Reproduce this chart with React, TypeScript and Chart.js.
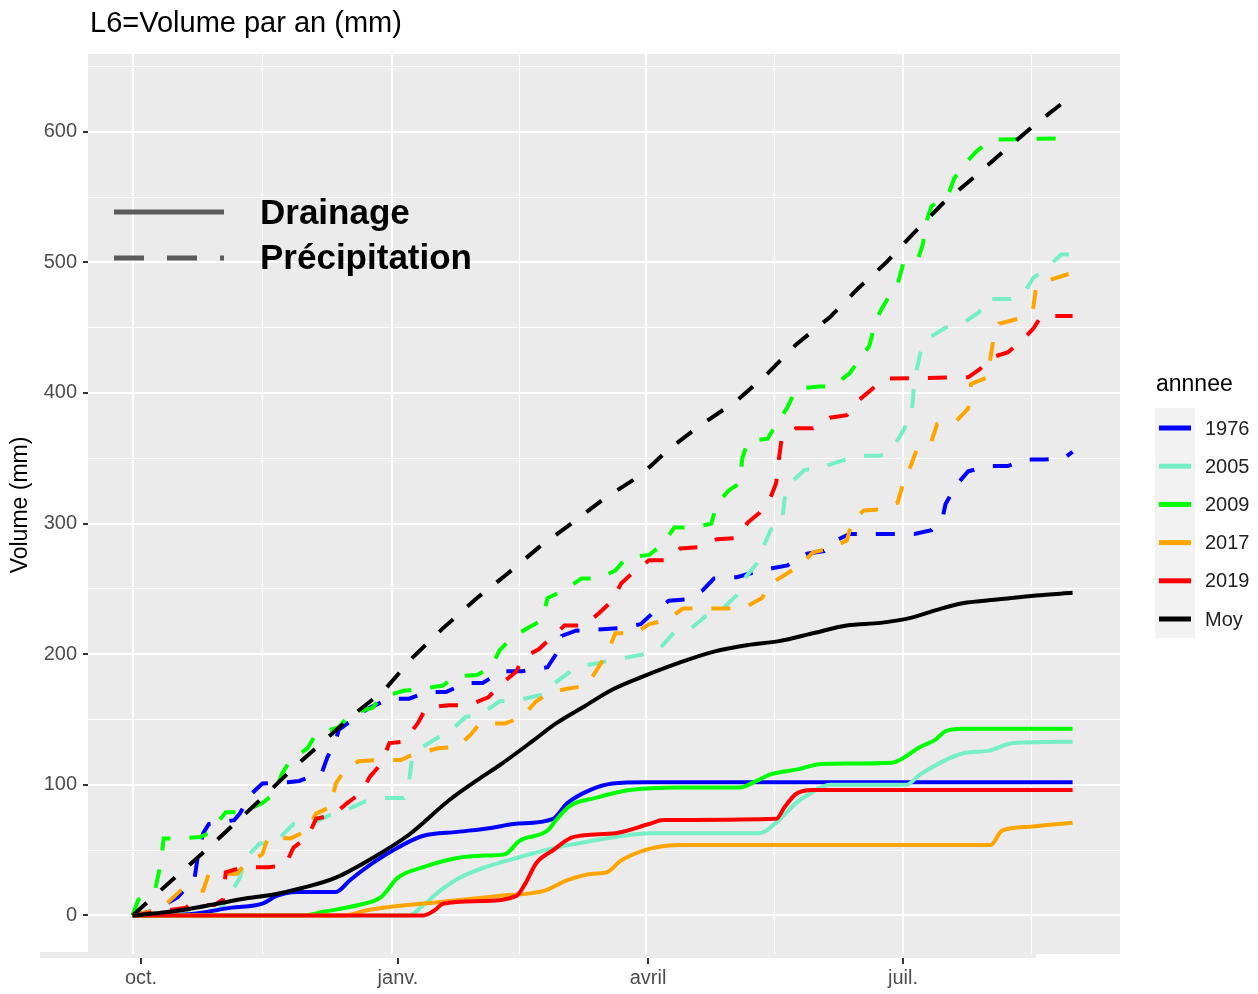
import React, { useEffect, useRef } from "react";
import { Chart, registerables } from "chart.js";

Chart.register(...registerables);

const FONT = '"Liberation Sans", Arial, Helvetica, sans-serif';

// x axis: days since 1 October
const monthLabels = ["oct.", "janv.", "avril", "juil."];
const monthDays = [0, 92, 182, 273];
const monthLabelShift = [8, 6, 2, 0];
const minorDays = [46, 137, 227.5, 318.5];
const yMajorTicks = [0, 100, 200, 300, 400, 500, 600];
const yMinorTicks = [50, 150, 250, 350, 450, 550, 650];

const years = ["1976", "2005", "2009", "2017", "2019", "Moy"];
const colors = ["#0000FF", "#76EEC6", "#00FF00", "#FFA500", "#FF0000", "#000000"];

// ---- Drainage (solid) ----
const drain1976Days = [0, 20, 35, 46, 51, 58, 72, 77, 85, 94, 103, 115, 127, 135, 149, 154, 162, 170, 182, 333];
const drain1976 = [0, 1, 6, 9, 15, 18, 18, 27, 40, 52, 61, 64, 67, 70, 74, 86, 96, 101, 102, 102];

const drain2005Days = [0, 98, 102, 109, 116, 125, 136, 148, 160, 171, 183, 194, 222, 229, 235, 239, 247, 274, 279, 294, 303, 312, 333];
const drain2005 = [0, 0, 6, 19, 29, 37, 44, 51, 56, 60, 63, 63, 63, 73, 86, 92, 100, 100, 108, 124, 126, 132, 133];

const drain2009Days = [0, 60, 68, 80, 88, 94, 103, 115, 127, 132, 137, 147, 150, 155, 164, 176, 194, 215, 221, 226, 236, 244, 269, 279, 284, 288, 294, 333];
const drain2009 = [0, 0, 3, 8, 14, 29, 37, 44, 46, 47, 57, 65, 73, 84, 90, 96, 98, 98, 103, 108, 112, 116, 117, 129, 134, 141, 143, 143];

const drain2017Days = [0, 75, 83, 107, 130, 146, 154, 163, 168, 173, 183, 194, 304, 308, 318, 333];
const drain2017 = [0, 0, 4, 10, 15, 19, 27, 32, 33, 42, 51, 54, 54, 65, 68, 71];

const drain2019Days = [0, 103, 107, 110, 124, 136, 139, 143, 149, 156, 171, 183, 188, 228, 231, 235, 241, 333];
const drain2019 = [0, 0, 4, 9, 11, 15, 24, 40, 50, 60, 63, 70, 73, 74, 83, 93, 96, 96];

const drainMoyDays = [0, 10, 20, 30, 40, 50, 60, 72, 85, 98, 112, 123, 130, 142, 150, 160, 170, 182, 193, 206, 218, 229, 241, 253, 265, 276, 285, 294, 307, 320, 333];
const drainMoy = [0, 2, 5, 9, 13, 16, 21, 29, 44, 62, 88, 105, 115, 134, 147, 160, 173, 184, 193, 202, 207, 210, 216, 222, 224, 228, 234, 239, 242, 245, 247];

// ---- Précipitation (dashed) ----
const prec1976Days = [0, 8, 12, 16, 22, 23, 25, 27, 36, 38, 42, 46, 55, 59, 67, 69, 72, 73, 81, 84, 91, 98, 104, 111, 118, 124, 131, 138, 147, 150, 152, 157, 165, 172, 180, 184, 190, 196, 202, 206, 214, 219, 227, 232, 239, 245, 249, 254, 269, 277, 283, 287, 288, 292, 296, 303, 310, 316, 323, 330, 333];
const prec1976 = [0, 4, 9, 14, 29, 44, 63, 70, 73, 78, 93, 101, 102, 103, 109, 121, 134, 142, 155, 159, 166, 166, 171, 171, 178, 178, 187, 187, 190, 200, 214, 218, 219, 220, 223, 231, 241, 242, 249, 258, 259, 262, 266, 268, 277, 279, 287, 292, 292, 292, 295, 305, 315, 330, 340, 344, 344, 349, 349, 350, 355];

const prec2005Days = [0, 20, 30, 32, 38, 40, 45, 50, 57, 63, 71, 75, 82, 88, 96, 98, 99, 102, 108, 112, 118, 124, 130, 137, 147, 149, 154, 157, 169, 174, 181, 187, 192, 198, 203, 208, 214, 216, 221, 223, 226, 230, 231, 233, 238, 244, 251, 257, 265, 269, 273, 276, 277, 279, 282, 288, 294, 300, 302, 311, 316, 319, 324, 329, 333];
const prec2005 = [0, 2, 4, 7, 29, 44, 55, 55, 70, 70, 78, 80, 87, 90, 90, 103, 121, 128, 136, 140, 152, 155, 164, 165, 170, 177, 185, 190, 195, 197, 200, 205, 217, 220, 229, 233, 245, 256, 269, 280, 295, 300, 319, 331, 341, 343, 348, 352, 352, 357, 371, 384, 410, 430, 442, 450, 453, 462, 472, 472, 477, 488, 496, 506, 506];

const prec2009Days = [0, 2, 8, 10, 11, 16, 24, 27, 33, 39, 46, 50, 53, 56, 62, 65, 73, 77, 85, 88, 96, 101, 110, 114, 122, 127, 130, 134, 140, 145, 147, 153, 159, 165, 171, 175, 183, 187, 192, 199, 205, 207, 211, 215, 216, 218, 225, 228, 232, 235, 243, 248, 254, 258, 261, 263, 265, 268, 271, 273, 278, 280, 281, 283, 289, 291, 295, 299, 304, 333];
const prec2009 = [0, 12, 20, 40, 59, 59, 60, 63, 79, 79, 86, 93, 109, 119, 128, 139, 144, 154, 159, 167, 172, 173, 176, 183, 184, 190, 203, 212, 220, 226, 243, 249, 258, 258, 264, 274, 276, 283, 297, 297, 300, 315, 325, 331, 350, 363, 365, 376, 389, 403, 405, 405, 415, 427, 436, 453, 463, 474, 483, 499, 501, 514, 530, 543, 552, 564, 576, 585, 594, 595];

const prec2017Days = [0, 10, 13, 17, 25, 27, 37, 39, 46, 48, 56, 62, 65, 70, 72, 75, 80, 87, 95, 98, 108, 115, 120, 123, 132, 138, 143, 148, 155, 161, 165, 168, 171, 178, 183, 189, 195, 203, 210, 217, 223, 226, 232, 237, 241, 247, 253, 255, 259, 266, 271, 273, 276, 278, 283, 285, 292, 296, 297, 303, 304, 305, 307, 314, 319, 320, 324, 333];
const prec2017 = [0, 5, 11, 19, 19, 32, 32, 37, 47, 60, 59, 65, 78, 83, 101, 111, 118, 119, 119, 122, 128, 129, 139, 147, 147, 152, 164, 171, 174, 176, 190, 200, 216, 216, 223, 226, 235, 235, 235, 236, 243, 254, 262, 269, 278, 281, 287, 302, 310, 311, 316, 331, 346, 358, 363, 376, 379, 388, 407, 412, 428, 442, 453, 457, 464, 480, 486, 492];

const prec2019Days = [0, 19, 20, 29, 32, 33, 39, 48, 54, 57, 62, 65, 71, 76, 81, 84, 88, 91, 96, 101, 104, 112, 119, 126, 130, 136, 138, 144, 149, 153, 160, 165, 170, 173, 177, 183, 189, 194, 201, 207, 214, 218, 222, 226, 228, 229, 230, 235, 241, 247, 253, 257, 262, 266, 296, 300, 304, 310, 315, 319, 322, 333];
const prec2019 = [0, 6, 8, 8, 12, 33, 37, 37, 38, 52, 60, 74, 77, 86, 94, 106, 116, 132, 133, 147, 159, 161, 161, 167, 176, 187, 197, 204, 214, 222, 222, 231, 241, 254, 262, 272, 272, 281, 282, 288, 289, 301, 308, 320, 331, 350, 366, 373, 373, 381, 383, 394, 403, 411, 412, 418, 427, 431, 440, 449, 459, 459];

const precMoyDays = [0, 15, 26, 36, 46, 57, 68, 79, 89, 99, 110, 122, 133, 144, 156, 167, 180, 190, 201, 214, 225, 235, 247, 257, 267, 277, 287, 298, 308, 320, 333];
const precMoy = [0, 29, 50, 70, 90, 113, 134, 155, 172, 197, 220, 243, 262, 282, 301, 319, 337, 357, 375, 394, 415, 437, 458, 480, 500, 523, 545, 565, 584, 606, 628];

const drainDays = [drain1976Days, drain2005Days, drain2009Days, drain2017Days, drain2019Days, drainMoyDays];
const drainVals = [drain1976, drain2005, drain2009, drain2017, drain2019, drainMoy];
const precDays = [prec1976Days, prec2005Days, prec2009Days, prec2017Days, prec2019Days, precMoyDays];
const precVals = [prec1976, prec2005, prec2009, prec2017, prec2019, precMoy];

const toPoints = (d: number[], v: number[]) => d.map((x, i) => ({ x, y: v[i] }));

const decorPlugin = {
  id: "decor",
  beforeDraw(chart: any) {
    const { ctx, chartArea: a } = chart;
    ctx.save();
    ctx.fillStyle = "#EBEBEB";
    ctx.fillRect(a.left, a.top, a.right - a.left, a.bottom - a.top);
    ctx.fillRect(40, a.bottom - 2, 996, 6);
    ctx.restore();
  },
  afterDraw(chart: any) {
    const { ctx, chartArea: a, scales } = chart;
    ctx.save();
    // title
    ctx.fillStyle = "#000000";
    ctx.textBaseline = "middle";
    ctx.textAlign = "left";
    ctx.font = `29px ${FONT}`;
    ctx.fillText("L6=Volume par an (mm)", 90, 24);
    // y axis title
    ctx.save();
    ctx.translate(21, 505);
    ctx.rotate(-Math.PI / 2);
    ctx.textAlign = "center";
    ctx.font = `23px ${FONT}`;
    ctx.fillText("Volume (mm)", 0, 0);
    ctx.restore();
    // x tick marks and labels (shifted like the reference)
    ctx.strokeStyle = "#333333";
    ctx.lineWidth = 2;
    ctx.fillStyle = "#4D4D4D";
    ctx.font = `20px ${FONT}`;
    ctx.textAlign = "center";
    ctx.textBaseline = "middle";
    monthDays.forEach((d, i) => {
      const x = Math.round(scales.x.getPixelForValue(d)) + monthLabelShift[i];
      ctx.beginPath();
      ctx.moveTo(x, a.bottom + 4);
      ctx.lineTo(x, a.bottom + 10);
      ctx.stroke();
      ctx.fillText(monthLabels[i], x, a.bottom + 24);
    });
    // inner linetype legend
    ctx.strokeStyle = "#5B5B5B";
    ctx.lineWidth = 5;
    ctx.beginPath();
    ctx.moveTo(114, 212);
    ctx.lineTo(224, 212);
    ctx.stroke();
    ctx.setLineDash([30, 23]);
    ctx.beginPath();
    ctx.moveTo(114, 258);
    ctx.lineTo(224, 258);
    ctx.stroke();
    ctx.setLineDash([]);
    ctx.fillStyle = "#000000";
    ctx.font = `bold 35px ${FONT}`;
    ctx.textAlign = "left";
    ctx.fillText("Drainage", 260, 214);
    ctx.fillText("Précipitation", 260, 259);
    // colour legend
    ctx.font = `23px ${FONT}`;
    ctx.fillStyle = "#000000";
    ctx.fillText("annnee", 1156, 385);
    ctx.fillStyle = "#F2F2F2";
    ctx.fillRect(1155, 408, 40, 230);
    years.forEach((y, i) => {
      const yy = 428 + i * 38.2;
      ctx.strokeStyle = colors[i];
      ctx.lineWidth = 5;
      ctx.beginPath();
      ctx.moveTo(1159, yy);
      ctx.lineTo(1191, yy);
      ctx.stroke();
      ctx.fillStyle = "#222222";
      ctx.font = `20px ${FONT}`;
      ctx.fillText(y, 1205, yy + 1);
    });
    ctx.restore();
  },
};

export default function App() {
  const canvasRef = useRef<HTMLCanvasElement | null>(null);

  useEffect(() => {
    document.body.style.margin = "0";
    const canvas = canvasRef.current;
    if (!canvas) return;

    const datasets: any[] = [];
    let order = 100;
    // precipitation (dashed) drawn first
    years.forEach((y, i) => {
      datasets.push({
        label: `${y} Précipitation`,
        data: toPoints(precDays[i], precVals[i]),
        borderColor: colors[i],
        borderWidth: 4,
        borderDash: [19, 19],
        pointRadius: 0,
        tension: 0,
        fill: false,
        order: order--,
      });
    });
    years.forEach((y, i) => {
      datasets.push({
        label: `${y} Drainage`,
        data: toPoints(drainDays[i], drainVals[i]),
        borderColor: colors[i],
        borderWidth: 4,
        pointRadius: 0,
        cubicInterpolationMode: "monotone",
        fill: false,
        order: order--,
      });
    });

    const chart = new Chart(canvas, {
      type: "line",
      data: { datasets },
      options: {
        responsive: false,
        animation: false,
        devicePixelRatio: 1,
        layout: { padding: { left: 0, top: 54, right: 138, bottom: 0 } },
        plugins: {
          legend: { display: false },
          title: { display: false },
          tooltip: { enabled: false },
        },
        scales: {
          x: {
            type: "linear",
            min: -15.8,
            max: 349.8,
            afterFit: (s: any) => {
              s.height = 40;
            },
            afterBuildTicks: (s: any) => {
              s.ticks = [...monthDays, ...minorDays].sort((p, q) => p - q).map((v) => ({ value: v }));
            },
            border: { display: false },
            grid: {
              color: "#FFFFFF",
              lineWidth: (c: any) => (monthDays.includes(c.tick?.value) ? 2 : 1),
              drawTicks: true,
              tickLength: 6,
              tickColor: "rgba(0,0,0,0)",
            },
            ticks: {
              autoSkip: false,
              maxRotation: 0,
              padding: 6,
              color: "#4D4D4D",
              font: { family: FONT, size: 20 },
              callback: () => "",
            },
          },
          y: {
            type: "linear",
            min: -29.5,
            max: 659.5,
            afterFit: (s: any) => {
              s.width = 88;
            },
            afterBuildTicks: (s: any) => {
              s.ticks = [...yMajorTicks, ...yMinorTicks].sort((p, q) => p - q).map((v) => ({ value: v }));
            },
            border: { display: false },
            grid: {
              color: "#FFFFFF",
              lineWidth: (c: any) => (yMajorTicks.includes(c.tick?.value) ? 2 : 1),
              drawTicks: true,
              tickLength: 5,
              tickWidth: 2,
              tickColor: (c: any) => (yMajorTicks.includes(c.tick?.value) ? "#333333" : "rgba(0,0,0,0)"),
            },
            ticks: {
              autoSkip: false,
              padding: 6,
              color: "#4D4D4D",
              font: { family: FONT, size: 20 },
              callback: (v: any) => (yMajorTicks.includes(Number(v)) ? String(v) : ""),
            },
          },
        },
      },
      plugins: [decorPlugin],
    });

    return () => {
      chart.destroy();
    };
  }, []);

  return (
    <div style={{ width: 1258, height: 994, background: "#FFFFFF" }}>
      <canvas ref={canvasRef} width={1258} height={994} style={{ display: "block" }} />
    </div>
  );
}
